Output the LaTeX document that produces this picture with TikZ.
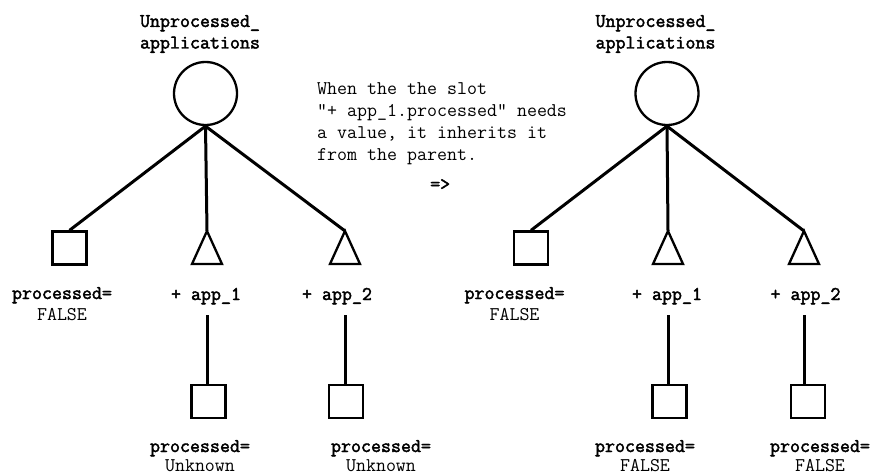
\documentclass[tikz,border=0pt]{standalone}
\usepackage{fontspec}
\newfontfamily\ttbold{Latin Modern Mono}[FakeBold=2.2]
\newcommand{\stackc}[2]{\begin{tabular}[t]{@{}c@{}}#1\\#2\end{tabular}}
\begin{document}
\begin{tikzpicture}[x=1pt,y=-1pt,
  lbl/.style={font=\fontsize{19.4}{21.5}\selectfont\ttbold, inner sep=0pt, anchor=base},
  lblb/.style={lbl, font=\fontsize{19.4}{19.5}\selectfont\ttbold},
  val/.style={font=\fontsize{19.4}{22}\selectfont\ttfamily, inner sep=0pt, anchor=base},
  conn/.style={line width=3pt},
  shp/.style={draw, line width=2.3pt, line join=miter},
  circ/.style={shp, circle, minimum size=63pt, inner sep=0pt},
  sq/.style={shp, rectangle, minimum width=34pt, minimum height=33pt, inner sep=0pt},
  ]
\useasboundingbox (0,0) rectangle (872,476);

% ---------- left tree ----------
\node[lbl] (h1) at (200,27) {\stackc{Unprocessed\_}{applications}};
\node[circ] (c1) at (205.5,93.5) {};
\node[sq] (s1) at (69.5,248) {};
\coordinate (t1) at (207,231);
\coordinate (t2) at (345,231);
\draw[shp] (t1) -- ++(-15,33) -- ++(30,0) -- cycle;
\draw[shp] (t2) -- ++(-15,33) -- ++(30,0) -- cycle;
\draw[conn] (c1.south) -- (s1.north);
\draw[conn] (c1.south) -- (t1);
\draw[conn] (c1.south) -- (t2);
\node[lbl] (p1) at (62,299) {\stackc{processed=}{\ttfamily FALSE}};
\node[lbl] (n1) at (206,300) {+ app\_1};
\node[lbl] (n2) at (337,300) {+ app\_2};
\coordinate (a1) at (207,315);
\coordinate (a2) at (345,315);
\node[sq] (b1) at (208.5,401.5) {};
\node[sq] (b2) at (346,401.5) {};
\draw[conn] (a1) -- (a1 |- b1.north);
\draw[conn] (a2) -- (a2 |- b2.north);
\node[lblb] (q1) at (200,452) {\stackc{processed=}{\ttfamily Unknown}};
\node[lblb] (q2) at (381,452) {\stackc{processed=}{\ttfamily Unknown}};

% ---------- explanation ----------
\node[val, anchor=base west] (txt) at (317,95) {\begin{tabular}[t]{@{}l@{}}When the the slot\\"+ app\_1.processed" needs\\a value, it inherits it\\from the parent.\end{tabular}};
\node[lbl, anchor=base west] (arr) at (430,190) {=>};

% ---------- right tree ----------
\node[lbl] (h2) at (655.5,27) {\stackc{Unprocessed\_}{applications}};
\node[circ] (c2) at (667,93.5) {};
\node[sq] (s3) at (531,248) {};
\coordinate (t3) at (668,231);
\coordinate (t4) at (804,231);
\draw[shp] (t3) -- ++(-15,33) -- ++(30,0) -- cycle;
\draw[shp] (t4) -- ++(-15,33) -- ++(30,0) -- cycle;
\draw[conn] (c2.south) -- (s3.north);
\draw[conn] (c2.south) -- (t3);
\draw[conn] (c2.south) -- (t4);
\node[lbl] (p3) at (514.5,299) {\stackc{processed=}{\ttfamily FALSE}};
\node[lbl] (n3) at (667,300) {+ app\_1};
\node[lbl] (n4) at (805.5,300) {+ app\_2};
\coordinate (a3) at (668,315);
\coordinate (a4) at (804,315);
\node[sq] (b3) at (669.5,401.5) {};
\node[sq] (b4) at (808,401.5) {};
\draw[conn] (a3) -- (a3 |- b3.north);
\draw[conn] (a4) -- (a4 |- b4.north);
\node[lblb] (q3) at (645,452) {\stackc{processed=}{\ttfamily FALSE}};
\node[lblb] (q4) at (820,452) {\stackc{processed=}{\ttfamily FALSE}};
\end{tikzpicture}
\end{document}
